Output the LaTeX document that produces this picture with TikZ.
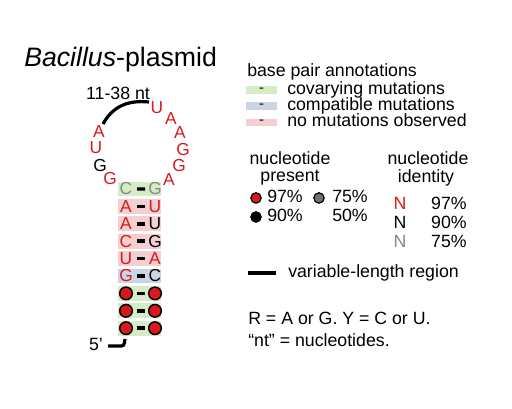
\documentclass[tikz,border=0pt]{standalone}
\usepackage{fontspec}
\setmainfont{Liberation Sans}
\usetikzlibrary{calc}
\definecolor{ntred}{RGB}{215,25,28}
\definecolor{ntgrey}{RGB}{135,135,135}
\definecolor{dotgrey}{RGB}{112,112,120}
\definecolor{covgreen}{RGB}{214,236,198}
\definecolor{compblue}{RGB}{202,212,228}
\definecolor{nomutpink}{RGB}{244,206,208}
\newcommand\ntfont{\fontsize{13}{15}\selectfont}
\newcommand\legfont{\fontsize{13.3}{15}\selectfont}
\tikzset{
  nt/.style={font=\ntfont,inner sep=0pt},
  leg/.style={font=\legfont,inner sep=0pt},
  dot/.style={circle,draw=black,line width=1.1pt,inner sep=0pt,minimum size=9.5pt},
  legdot/.style={circle,draw=black,line width=0.9pt,inner sep=0pt,minimum size=7.8pt},
  varline/.style={line width=2.4pt},
  pairbar/.style={line width=2.6pt}
}
\begin{document}
\begin{tikzpicture}[x=0.75pt,y=-0.75pt]
\useasboundingbox (0,0) rectangle (512,409);
\node[anchor=base west,inner sep=0pt,font=\fontsize{20}{24}\selectfont] (title) at (24,67) {\textit{Bacillus}-plasmid};

% hairpin loop
\node[leg] (loopnt) at (118,93) {11-38 nt};
\node[nt,text=ntred] (a1) at (99,132) {A};
\node[nt,text=ntred] (a2) at (96,148) {U};
\node[nt] (a3) at (100,166) {G};
\node[nt,text=ntred] (a4) at (110,179) {G};
\node[nt,text=ntred] (b1) at (157,108) {U};
\node[nt,text=ntred] (b2) at (171,119) {A};
\node[nt,text=ntred] (b3) at (180,133) {A};
\node[nt,text=ntred] (b4) at (183,150) {G};
\node[nt,text=ntred] (b5) at (179,165.5) {G};
\node[nt,text=ntred] (b6) at (169,180) {A};
\coordinate (vl1) at (103,124);
\coordinate (vl2) at (149,102);
\draw[varline] (vl1) .. controls (113,106) and (128,100) .. (vl2);

% stem
\foreach \i/\l/\lc/\r/\rc/\bg in {0/C/ntgrey/G/ntgrey/covgreen,1/A/ntred/U/ntred/nomutpink,
  2/A/ntred/U/black/nomutpink,3/C/ntred/G/black/nomutpink,4/U/ntred/A/ntred/nomutpink,
  5/G/ntred/C/black/compblue}{
  \fill[\bg] (118,189+17.4*\i-7.4) rectangle (161,189+17.4*\i+7.4);
  \node[nt,text=\lc] (l\i) at (126,189+17.4*\i) {\l};
  \node[nt,text=\rc] (r\i) at (155,189+17.4*\i) {\r};
  \draw[pairbar] ($(l\i)!0.38!(r\i)$) -- ($(l\i)!0.66!(r\i)$);
}
\foreach \i in {6,7,8}{
  \fill[covgreen] (118,189+17.4*\i-7.4) rectangle (161,189+17.4*\i+7.4);
  \node[dot,fill=ntred] (l\i) at (126,189+17.4*\i) {};
  \node[dot,fill=ntred] (r\i) at (155,189+17.4*\i) {};
  \draw[pairbar] ($(l\i)!0.38!(r\i)$) -- ($(l\i)!0.66!(r\i)$);
}
\node[leg] (five) at (96,344) {5'};
\coordinate (v5a) at (108,346);
\coordinate (v5b) at (125,339);
\draw[varline] (v5a) -- (119,346) .. controls (124,346) .. (v5b);

% base pair legend
\node[leg,anchor=base west] (bpann) at (247,77) {base pair annotations};
\foreach \y/\c/\t in {90/covgreen/covarying mutations,106/compblue/compatible mutations,122.5/nomutpink/no mutations observed}{
  \fill[\c] (246,\y-3.8) rectangle (277,\y+3.8);
  \node[inner sep=0pt,font=\fontsize{11}{12}\selectfont] at (261.5,\y) {-};
  \node[leg,anchor=base west] at (287,\y+4.5) {\t};
}

% nucleotide present
\node[leg,anchor=base] (ntpres1) at (290,165) {nucleotide};
\node[leg,anchor=base] (ntpres2) at (290,182) {present};
\node[legdot,fill=ntred] (d97) at (256,198) {};
\node[leg,anchor=base west] (p97) at (267,203) {97\%};
\node[legdot,fill=dotgrey] (d75) at (319,198) {};
\node[leg,anchor=base west] (p75) at (332,203) {75\%};
\node[legdot,fill=black] (d90) at (256,217) {};
\node[leg,anchor=base west] (p90) at (267,222) {90\%};
\node[leg,anchor=base west] (p50) at (332,222) {50\%};

% nucleotide identity
\node[leg,anchor=base] (ntid1) at (428,165) {nucleotide};
\node[leg,anchor=base] (ntid2) at (426,183) {identity};
\node[leg,anchor=base,text=ntred] (n97) at (400,210) {N};
\node[leg,anchor=base east] (i97) at (467,210) {97\%};
\node[leg,anchor=base] (n90) at (400,229) {N};
\node[leg,anchor=base east] (i90) at (467,229) {90\%};
\node[leg,anchor=base,text=ntgrey] (n75) at (400,248) {N};
\node[leg,anchor=base east] (i75) at (467,248) {75\%};

% variable length
\coordinate (vr1) at (248,273);
\coordinate (vr2) at (276,273);
\draw[varline] (vr1) -- (vr2);
\node[leg,anchor=base west] (varlen) at (288,278) {variable-length region};
\node[leg,anchor=base west] (ryline) at (248,325) {R = A or G. Y = C or U.};
\node[leg,anchor=base west] (ntline) at (248,347) {“nt” = nucleotides.};
\end{tikzpicture}
\end{document}
